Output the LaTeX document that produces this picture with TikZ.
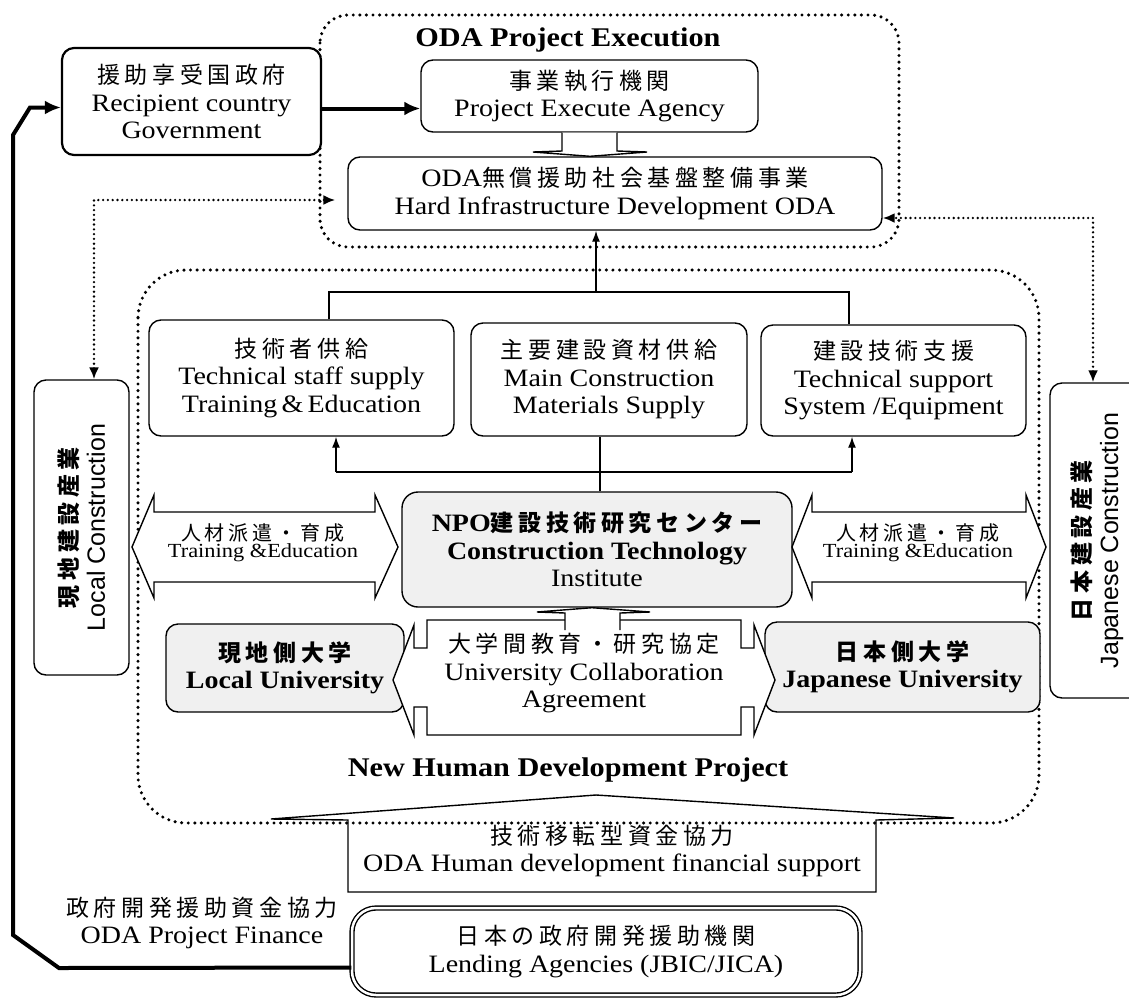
\documentclass[tikz,border=0pt]{standalone}
\usepackage{fontspec}
\setmainfont{Liberation Serif}[FakeStretch=1.12]
\newfontfamily\jp{Noto Sans CJK JP}[LetterSpace=20]
\newfontfamily\sansf{Liberation Sans}
\usetikzlibrary{arrows.meta,calc}
\newcommand\J[2][23]{{\jp\fontsize{#1}{27.5}\selectfont #2}}
\newcommand\fs{\fontsize{25}{27.5}\selectfont}
\newcommand\fsm{\fontsize{20}{27}\selectfont}
\begin{document}
\begin{tikzpicture}[x=1pt,y=-1pt,
 rbox/.style={draw,rounded corners=12pt,line width=1.4pt,align=center,inner sep=0pt,fill=white,font=\fs},
 gbox/.style={rbox,fill=gray!12},
 dotreg/.style={line width=3.4pt,line cap=round,dash pattern=on 0pt off 6.6pt},
 dotarr/.style={line width=2.6pt,line cap=round,dash pattern=on 0pt off 4.8pt,arrows={Latex[length=12pt,width=10pt]-Latex[length=12pt,width=10pt]}},
 arr/.style={line width=1.4pt,arrows={-Latex[length=11pt,width=8pt]}},
 thk/.style={line width=4pt,arrows={-Latex[length=16pt,width=14pt]}},
 ln/.style={line width=1.4pt},
 blk/.style={line width=1.4pt,fill=white,line join=miter},
 ttl/.style={font=\fontsize{27}{30}\selectfont\bfseries},
 lbl/.style={font=\fs,align=center}]
\useasboundingbox (0,0) rectangle (1129,999);
\clip (0,0) rectangle (1129,999);

% financial support roof arrow
\draw[blk] (348,892) -- (348,820) -- (271,819) -- (596,795) -- (954,818) -- (876,820) -- (876,892) -- cycle;
\node[lbl] (hum) at (612,851) {\J{技術移転型資金協力}\\ODA Human development financial support};

% dotted regions
\draw[dotreg, rounded corners=28pt] (320,15) rectangle (899,247);
\draw[dotreg, rounded corners=48pt] (138,270) rectangle (1039,823);

\node[ttl] (t1) at (568,40) {ODA Project Execution};
\node[ttl] (t2) at (568,770) {New Human Development Project};

% boxes
\node[rbox, line width=2.2pt, minimum width=259, minimum height=107] (rec) at (191.5,101.5) {\J{援助享受国政府}\\Recipient country\\Government};
\node[rbox, minimum width=337, minimum height=72] (exec) at (589.5,96) {\J{事業執行機関}\\Project Execute Agency};
\node[rbox, minimum width=534, minimum height=73] (oda) at (615,193.5) {ODA\J{無償援助社会基盤整備事業}\\Hard Infrastructure Development ODA};

\node[rbox, minimum width=305, minimum height=116] (staff) at (301.5,378) {\J{技術者供給}\\Technical staff supply\\Training\,\&\,Education};
\node[rbox, minimum width=276, minimum height=113] (main) at (609,379.5) {\J{主要建設資材供給}\\Main Construction\\Materials Supply};
\node[rbox, minimum width=265, minimum height=111] (supp) at (893.5,380.5) {\J{建設技術支援}\\Technical support\\System /Equipment};

\node[gbox, rounded corners=16pt, minimum width=390, minimum height=115] (npo) at (597,549.5) {{\bfseries NPO\J{建設技術研究センター}}\\{\bfseries Construction Technology}\\Institute};

\node[gbox, minimum width=238, minimum height=88] (locu) at (285,668) {\J{\bfseries 現地側大学}\\{\bfseries Local University}};
\node[gbox, minimum width=275, minimum height=90] (jpu) at (902.5,667) {\J{\bfseries 日本側大学}\\{\bfseries Japanese University}};

\node[rbox, rotate=90, minimum width=295, minimum height=95] (lcons) at (81.5,527.5) {\J{\bfseries 現地建設産業}\\{\sansf Local Construction}};
\node[rbox, rotate=90, minimum width=315, minimum height=94] (jcons) at (1097,540.5) {\J{\bfseries 日本建設産業}\\{\sansf Japanese Construction}};

\node[rbox, double, double distance=2.5pt, line width=1.4pt, rounded corners=24pt, minimum width=508, minimum height=87] (lend) at (606,951.5) {\J{日本の政府開発援助機関}\\Lending Agencies (JBIC/JICA)};

\node[lbl] (fin) at (202,923) {\J{政府開発援助資金協力}\\ODA Project Finance};

% thick finance line
\draw[thk] ([yshift=-16pt]lend.west) -- (59,968) -- (13,935) -- (13,135) -- (30,107.5) -- ([yshift=-6pt]rec.west);
\coordinate (ra) at ([yshift=-7pt]rec.east);
\draw[thk] (ra) -- (ra -| exec.west);

% tree connectors
\draw[ln] (329,0 |- staff.north) -- (329,292) -- (849,292) -- (849,0 |- supp.north);
\draw[arr] (596,292) -- (596,0 |- oda.south);
\draw[ln] (600,0 |- npo.north) -- (600,0 |- main.south);
\draw[ln] (336,472) -- (852,472);
\draw[arr] (336,472) -- (336,0 |- staff.south);
\draw[arr] (852,472) -- (852,0 |- supp.south);

% dotted arrows
\draw[dotarr] (94,0 |- lcons.east) -- (94,200) -- ($(oda.west)+(-12,6.5)$);
\draw[dotarr] (1093,0 |- jcons.east) -- (1093,218) -- (oda.east |- 1093,218);

% training block arrows
\draw[blk] (132,547) -- (154,495) -- (154,512) -- (375,512) -- (375,495) -- (398,547) -- (375,598) -- (375,582) -- (154,582) -- (154,598) -- cycle;
\node[align=center] (tel) at (263,543) {\J[20]{人材派遣・育成}\\{\fsm Training \&Education}};
\draw[blk] (792,547) -- (812,495) -- (812,512) -- (1026,512) -- (1026,495) -- (1046,547) -- (1026,598) -- (1026,582) -- (812,582) -- (812,598) -- cycle;
\node[align=center] (ter) at (918,543) {\J[20]{人材派遣・育成}\\{\fsm Training \&Education}};

% university collaboration double arrow
\draw[blk] (427,620) -- (741,620) -- (741,648) -- (754,648) -- (754,625) -- (775,680) -- (754,735) -- (754,707) -- (741,707) -- (741,735) -- (427,735) -- (427,707) -- (414,707) -- (414,735) -- (393,680) -- (414,625) -- (414,648) -- (427,648) -- cycle;
\node[lbl] (col) at (584,673) {\J{大学間教育・研究協定}\\University Collaboration\\Agreement};

% small block arrows
\draw[blk] (562,0 |- exec.south) -- (562,151) -- (533,152) -- (590,0 |- oda.north) -- (647,152) -- (617,151) -- (617,0 |- exec.south);
\draw[blk] (565,630) -- (565,613) -- (537,612) -- (592,0 |- npo.south) -- (650,612) -- (620,613) -- (620,630);
\end{tikzpicture}
\end{document}
